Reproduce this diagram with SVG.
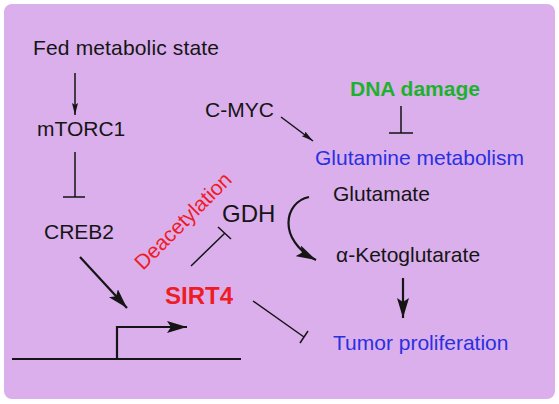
<svg xmlns="http://www.w3.org/2000/svg" width="559" height="404" viewBox="0 0 559 404">
<style>
.t{font-family:"Liberation Sans",Arial,sans-serif;font-size:21px;fill:#151515}
.b{font-weight:bold}
.blue{fill:#2A2FE0}
.red{fill:#EE1C25}
.green{fill:#1DB12E}
.thin{stroke:#151515;stroke-width:1.5;fill:none}
.thick{stroke:#151515;stroke-width:2.2;fill:none}
</style>
<defs>
<marker id="ah" viewBox="0 0 12 6" markerWidth="12" markerHeight="6" refX="12" refY="3" orient="auto" markerUnits="userSpaceOnUse"><path d="M0,0 L12,3 L0,6 L2,3 z" fill="#151515"/></marker>
<marker id="AH" viewBox="0 0 20 12" markerWidth="20" markerHeight="12" refX="20" refY="6" orient="auto" markerUnits="userSpaceOnUse"><path d="M0,0 L20,6 L0,12 L4,6 z" fill="#151515"/></marker>
</defs>
<rect x="0" y="0" width="559" height="404" fill="#ffffff"/>
<rect x="4" y="4" width="551" height="395" rx="8" fill="#DAAFEC"/>
<g id="connectors">
<path class="thin" d="M75,73 L75,115" marker-end="url(#ah)"/>
<path class="thin" d="M75,152 L75,197 M63,197 L85,197"/>
<path class="thin" d="M281,117 L313,141" marker-end="url(#ah)"/>
<path class="thin" d="M401,106 L401,133 M389,133 L413,133"/>
<path class="thin" d="M191,266 L225,233 M218,227 L231,239"/>
<path class="thick" d="M309,197 C284,202 277,240 316,260" marker-end="url(#AH)"/>
<path class="thick" d="M403,278 L403,318" marker-end="url(#AH)"/>
<path class="thin" d="M253,301 L304,337 M300,343 L308,331"/>
<path class="thick" d="M80,257 L127,308" marker-end="url(#AH)"/>
</g>
<g id="promoter">
<path class="thick" d="M12,359 L241,359"/>
<path class="thick" d="M117,359 L117,327 L187,327" marker-end="url(#AH)"/>
</g>
<g id="fed"><text class="t" x="33" y="55" textLength="186">Fed metabolic state</text></g>
<g id="mtorc1"><text class="t" x="37" y="136">mTORC1</text></g>
<g id="creb2"><text class="t" x="44" y="239">CREB2</text></g>
<g id="cmyc"><text class="t" x="205" y="117">C-MYC</text></g>
<g id="dna"><text class="t b green" x="350" y="96">DNA damage</text></g>
<g id="glutmet"><text class="t blue" x="315" y="165">Glutamine metabolism</text></g>
<g id="glutamate"><text class="t" x="333" y="201">Glutamate</text></g>
<g id="gdh"><text class="t" style="font-size:24px" x="222" y="222">GDH</text></g>
<g id="deacetylation"><text class="t red" transform="translate(143,271) rotate(-45)">Deacetylation</text></g>
<g id="akg"><text class="t" x="336" y="262">α-Ketoglutarate</text></g>
<g id="sirt4"><text class="t b red" style="font-size:24px" x="165" y="304">SIRT4</text></g>
<g id="tumor"><text class="t blue" x="333" y="350">Tumor proliferation</text></g>
</svg>
